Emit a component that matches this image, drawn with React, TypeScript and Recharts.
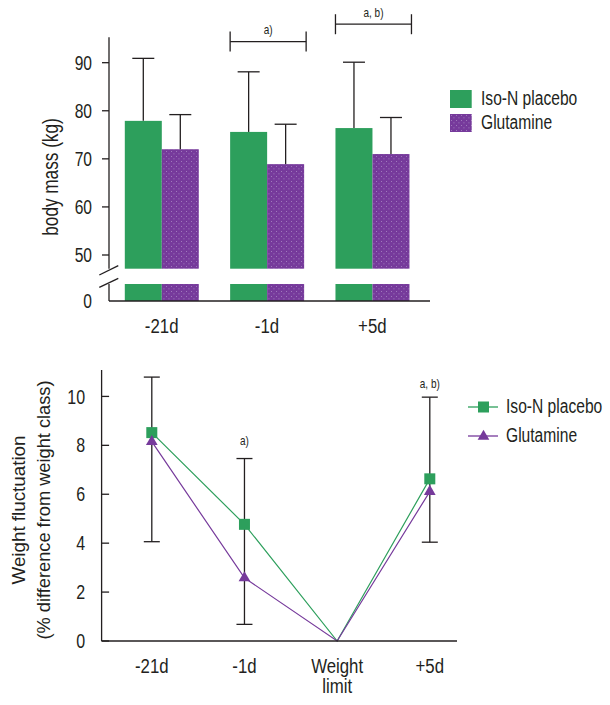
import React from 'react';
import {
  BarChart,
  Bar,
  LineChart,
  Line,
  XAxis,
  YAxis,
  ErrorBar,
  Legend,
  LabelList,
  ReferenceDot,
} from 'recharts';

// body mass, mean + SD (kg)
const barDays = ['-21d', '-1d', '+5d'];
const barPlacebo = [77.9, 75.6, 76.4];
const barPlaceboSD = [13.0, 12.5, 13.7];
const barGlutamine = [72.0, 68.9, 71.0];
const barGlutamineSD = [7.2, 8.3, 7.6];
const barSigLabels = ['', 'a)', 'a, b)'];
const barSigLevels = [null, 94.4, 98.0];
const massTicks = [50, 60, 70, 80, 90];

// weight fluctuation, % above weight class
const lineStages = ['-21d', '-1d', 'Weight limit', '+5d'];
const linePlacebo = [8.52, 4.77, 0, 6.63];
const linePlaceboUpperSD = [2.27, 2.69, null, 3.34];
const lineGlutamine = [8.15, 2.58, 0, 6.11];
const lineGlutamineLowerSD = [4.09, 1.9, null, 2.07];
const lineMarked = [true, true, false, true];
const lineSigLabels = ['', 'a)', '', 'a, b)'];
const lineSigLevels = [null, 8.2, null, 10.5];
const fluctTicks = [0, 2, 4, 6, 8, 10];

const seriesNames = ['Iso-N placebo', 'Glutamine'];

const INK = '#231f20';
const GREEN = '#2d9f5c';
const PURPLE = '#763a9b';
const DOT = '#a98ac4';
const SANS = "'Liberation Sans', Arial, sans-serif";
const SQUEEZE = 0.8; // no narrow face installed, so squeeze the regular one

const MASS_DOMAIN = [47.15, 95.28];
const STUB_DOMAIN = [0, 3.5];
const FLUCT_DOMAIN = [0, 11.08];

const massData = barDays.map((day, i) => ({
  day,
  placebo: barPlacebo[i],
  glutamine: barGlutamine[i],
  placeboSD: barPlaceboSD[i],
  glutamineSD: barGlutamineSD[i],
  sig: barSigLabels[i],
}));

const fluctData = lineStages.map((stage, i) => ({
  stage,
  placebo: linePlacebo[i],
  glutamine: lineGlutamine[i],
  // one whisker per day: placebo upper SD down to glutamine lower SD
  whisker:
    linePlaceboUpperSD[i] == null
      ? undefined
      : [linePlacebo[i] - (lineGlutamine[i] - (lineGlutamineLowerSD[i] as number)), linePlaceboUpperSD[i]],
}));

const Narrow = ({ x, y, size, anchor = 'middle', rotate = 0, children }: any) => (
  <text
    transform={`translate(${x} ${y}) rotate(${rotate}) scale(${SQUEEZE} 1)`}
    x={0}
    y={0}
    textAnchor={anchor}
    fill={INK}
    style={{ fontSize: size, fontFamily: SANS }}
  >
    {children}
  </text>
);

const DotPattern = ({ id }: { id: string }) => (
  <pattern id={id} width={5} height={5} patternUnits="userSpaceOnUse">
    <rect width={5} height={5} fill={PURPLE} />
    <rect x={1} y={1} width={0.9} height={0.9} fill={DOT} />
    <rect x={3.5} y={3.4} width={0.9} height={0.9} fill={DOT} />
  </pattern>
);

const whiskerBar = (valueKey: string, sdKey: string) => (props: any) => {
  const { x, y, width, height, fill, payload } = props;
  const v = payload[valueKey];
  const ppu = height / (v - MASS_DOMAIN[0]);
  const top = y - payload[sdKey] * ppu;
  const cx = x + width / 2;
  return (
    <g>
      <rect x={x} y={y} width={width} height={height} fill={fill} />
      <line x1={cx} y1={y} x2={cx} y2={top} stroke={INK} strokeWidth={1.3} />
      <line x1={cx - 11} y1={top} x2={cx + 11} y2={top} stroke={INK} strokeWidth={1.3} />
    </g>
  );
};

const bracketLabel = (props: any) => {
  const { value } = props;
  if (!value) return null;
  const idx = props.index ?? barSigLabels.indexOf(value);
  const level = barSigLevels[idx];
  if (level == null) return null;
  const vb = props.viewBox ?? props;
  const v = barGlutamine[idx];
  const ppu = vb.height / (v - MASS_DOMAIN[0]);
  const yb = vb.y - (level - v) * ppu;
  const left = vb.x - vb.width;
  const right = vb.x + vb.width + 2;
  return (
    <g>
      <g stroke={INK} strokeWidth={1.3}>
        <line x1={left} y1={yb} x2={right} y2={yb} />
        <line x1={left} y1={yb - 10} x2={left} y2={yb + 10} />
        <line x1={right} y1={yb - 10} x2={right} y2={yb + 10} />
      </g>
      <Narrow x={(left + right) / 2} y={yb - 7.6} size={12.5}>
        {value}
      </Narrow>
    </g>
  );
};

const sigDotLabel = (text: string) => (props: any) => {
  const vb = props.viewBox ?? { x: 0, y: 0, width: 0, height: 0 };
  return (
    <Narrow x={vb.x + vb.width / 2} y={vb.y + vb.height / 2 + 4.2} size={12.5}>
      {text}
    </Narrow>
  );
};

const StageTick = (props: any) => {
  const { x, y, payload } = props;
  const lines = String(payload.value).split(' ');
  return (
    <g>
      {lines.map((l, i) => (
        <Narrow key={l} x={x} y={y + 32 + i * 20} size={21}>
          {l}
        </Narrow>
      ))}
    </g>
  );
};

const ValueTick = (size: number) => (props: any) => {
  const { x, y, payload } = props;
  return (
    <Narrow x={x} y={y + size * 0.355} size={size} anchor="end">
      {payload.value}
    </Narrow>
  );
};

const massLabel = (props: any) => {
  const vb = props.viewBox ?? { x: 49, y: 37.3, width: 60, height: 231.4 };
  const cx = vb.x + 1.8 + 7.5;
  const cy = vb.y + vb.height / 2 + 24;
  return (
    <Narrow x={cx} y={cy} size={21.5} rotate={-90}>
      body mass (kg)
    </Narrow>
  );
};

const fluctRows = ['Weight fluctuation', '(% difference from weight class)'];
const fluctRowLengths = [149, 259];

const fluctLabel = (props: any) => {
  const vb = props.viewBox ?? { x: 0, y: 10, width: 101.6, height: 271 };
  const cy = vb.y + vb.height / 2 + 4.5;
  const xs = [vb.x + 18.3, vb.x + 43.3];
  return (
    <g>
      {fluctRows.map((r, i) => (
        <text
          key={r}
          transform={`translate(${xs[i] + 6.5} ${cy}) rotate(-90)`}
          x={-fluctRowLengths[i] / 2}
          y={0}
          textLength={fluctRowLengths[i]}
          lengthAdjust="spacingAndGlyphs"
          fill={INK}
          style={{ fontSize: 18.5, fontFamily: SANS }}
        >
          {r}
        </text>
      ))}
    </g>
  );
};

const squareDot = (props: any) => {
  const { cx, cy, index } = props;
  if (!lineMarked[index]) return <g key={`sq-${index}`} />;
  return <rect key={`sq-${index}`} x={cx - 5.5} y={cy - 5.5} width={11} height={11} fill={GREEN} />;
};

const trianglePoints = (cx: number, cy: number) => {
  const h = 10.1;
  const half = 5.85;
  return `${cx},${cy - (2 * h) / 3} ${cx + half},${cy + h / 3} ${cx - half},${cy + h / 3}`;
};

const triangleDot = (props: any) => {
  const { cx, cy, index } = props;
  if (!lineMarked[index]) return <g key={`tri-${index}`} />;
  return <polygon key={`tri-${index}`} points={trianglePoints(cx, cy)} fill={PURPLE} />;
};

const legendText = (name: string) => (
  <span
    style={{
      display: 'inline-block',
      transform: `scaleX(${SQUEEZE})`,
      transformOrigin: 'left center',
    }}
  >
    {name}
  </span>
);

const BarLegend = () => (
  <div style={{ fontFamily: SANS, fontSize: 19.5, color: INK, whiteSpace: 'nowrap', lineHeight: 1 }}>
    {seriesNames.map((name, i) => (
      <div key={name} style={{ display: 'flex', alignItems: 'center', height: 24.3 }}>
        <svg width={21.7} height={18.5} style={{ marginRight: 9, flexShrink: 0 }}>
          <defs>
            <DotPattern id="legendDots" />
          </defs>
          <rect width={21.7} height={18.5} fill={i === 0 ? GREEN : 'url(#legendDots)'} />
        </svg>
        {legendText(name)}
      </div>
    ))}
  </div>
);

const LineLegend = () => (
  <div style={{ fontFamily: SANS, fontSize: 19.5, color: INK, whiteSpace: 'nowrap', lineHeight: 1 }}>
    {seriesNames.map((name, i) => (
      <div key={name} style={{ display: 'flex', alignItems: 'center', height: 29.3 }}>
        <svg width={30} height={14} style={{ marginRight: 8, flexShrink: 0 }}>
          <line x1={0} y1={7} x2={30} y2={7} stroke={i === 0 ? GREEN : PURPLE} strokeWidth={1.3} />
          {i === 0 ? (
            <rect x={10} y={1.5} width={11} height={11} fill={GREEN} />
          ) : (
            <polygon points={trianglePoints(15.5, 7.5)} fill={PURPLE} />
          )}
        </svg>
        {legendText(name)}
      </div>
    ))}
  </div>
);

export default function App() {
  return (
    <div style={{ position: 'absolute', left: 0, top: 0, width: 610, height: 705, background: '#fff' }}>
      {/* upper part of the broken mass axis */}
      <div style={{ position: 'absolute', left: 0, top: 0 }}>
        <BarChart
          width={610}
          height={275}
          data={massData}
          margin={{ top: 37.3, right: 180, bottom: 6.3, left: 49 }}
          barCategoryGap="15%"
          barGap={0}
        >
          <defs>
            <DotPattern id="barDots" />
          </defs>
          <XAxis dataKey="day" hide padding={{ left: 0, right: 5 }} />
          <YAxis
            type="number"
            domain={MASS_DOMAIN}
            ticks={massTicks}
            width={60}
            tickSize={7}
            tickMargin={10}
            tick={ValueTick(19.5)}
            axisLine={{ stroke: INK, strokeWidth: 1.3 }}
            tickLine={{ stroke: INK, strokeWidth: 1.3 }}
            label={{ content: massLabel }}
          />
          <Bar
            dataKey="placebo"
            name={seriesNames[0]}
            fill={GREEN}
            shape={whiskerBar('placebo', 'placeboSD')}
            isAnimationActive={false}
          />
          <Bar
            dataKey="glutamine"
            name={seriesNames[1]}
            fill="url(#barDots)"
            shape={whiskerBar('glutamine', 'glutamineSD')}
            isAnimationActive={false}
          >
            <LabelList dataKey="sig" content={bracketLabel} />
          </Bar>
          <Legend
            layout="vertical"
            align="center"
            verticalAlign="middle"
            content={BarLegend}
            wrapperStyle={{ left: 450, top: 86.8, width: 160 }}
          />
        </BarChart>
      </div>

      {/* lower stub of the broken axis, down to 0 */}
      <div style={{ position: 'absolute', left: 0, top: 275 }}>
        <BarChart
          width={610}
          height={70}
          data={massData}
          margin={{ top: 9, right: 180, bottom: 14, left: 49 }}
          barCategoryGap="15%"
          barGap={0}
        >
          <defs>
            <DotPattern id="stubDots" />
          </defs>
          <XAxis
            dataKey="day"
            height={30}
            padding={{ left: 0, right: 5 }}
            tickSize={0}
            tickMargin={0}
            tickLine={false}
            tick={StageTick}
            axisLine={{ stroke: INK, strokeWidth: 1.3 }}
          />
          <YAxis
            type="number"
            domain={STUB_DOMAIN}
            allowDataOverflow
            ticks={[0]}
            width={60}
            tickSize={7}
            tickMargin={10}
            tick={ValueTick(19.5)}
            tickLine={false}
            axisLine={{ stroke: INK, strokeWidth: 1.3 }}
          />
          <Bar dataKey="placebo" fill={GREEN} isAnimationActive={false} />
          <Bar dataKey="glutamine" fill="url(#stubDots)" isAnimationActive={false} />
        </BarChart>
      </div>

      {/* axis break marks */}
      <svg
        width={40}
        height={40}
        style={{ position: 'absolute', left: 90, top: 255 }}
        viewBox="90 255 40 40"
      >
        <line x1={99.3} y1={275} x2={118.3} y2={265.7} stroke={INK} strokeWidth={1.3} />
        <line x1={99.3} y1={287.3} x2={118.3} y2={278.3} stroke={INK} strokeWidth={1.3} />
      </svg>

      {/* weight fluctuation */}
      <div style={{ position: 'absolute', left: 0, top: 360 }}>
        <LineChart
          width={610}
          height={345}
          data={fluctData}
          margin={{ top: 10, right: 153, bottom: 34, left: 0 }}
        >
          <XAxis
            dataKey="stage"
            height={30}
            scale="point"
            padding={{ left: 50.2, right: 27.2 }}
            tickSize={0}
            tickMargin={0}
            tickLine={false}
            tick={StageTick}
            axisLine={{ stroke: INK, strokeWidth: 1.3 }}
          />
          <YAxis
            type="number"
            domain={FLUCT_DOMAIN}
            ticks={fluctTicks}
            width={101.6}
            tickSize={-7.5}
            tickMargin={24}
            tick={ValueTick(20)}
            axisLine={{ stroke: INK, strokeWidth: 1.3 }}
            tickLine={{ stroke: INK, strokeWidth: 1.3 }}
            label={{ content: fluctLabel }}
          />
          <Line
            type="linear"
            dataKey="placebo"
            name={seriesNames[0]}
            stroke={GREEN}
            strokeWidth={1.2}
            dot={squareDot}
            activeDot={false}
            isAnimationActive={false}
          >
            <ErrorBar dataKey="whisker" width={8} stroke={INK} strokeWidth={1.3} direction="y" />
          </Line>
          <Line
            type="linear"
            dataKey="glutamine"
            name={seriesNames[1]}
            stroke={PURPLE}
            strokeWidth={1.2}
            dot={triangleDot}
            activeDot={false}
            isAnimationActive={false}
          />
          {lineStages.map((stage, i) =>
            lineSigLevels[i] == null ? null : (
              <ReferenceDot
                key={stage}
                x={stage}
                y={lineSigLevels[i] as number}
                r={0}
                fill="none"
                stroke="none"
                label={{ content: sigDotLabel(lineSigLabels[i]) }}
              />
            )
          )}
          <Legend
            layout="vertical"
            align="center"
            verticalAlign="middle"
            content={LineLegend}
            wrapperStyle={{ left: 468, top: 32, width: 142 }}
          />
        </LineChart>
      </div>
    </div>
  );
}
